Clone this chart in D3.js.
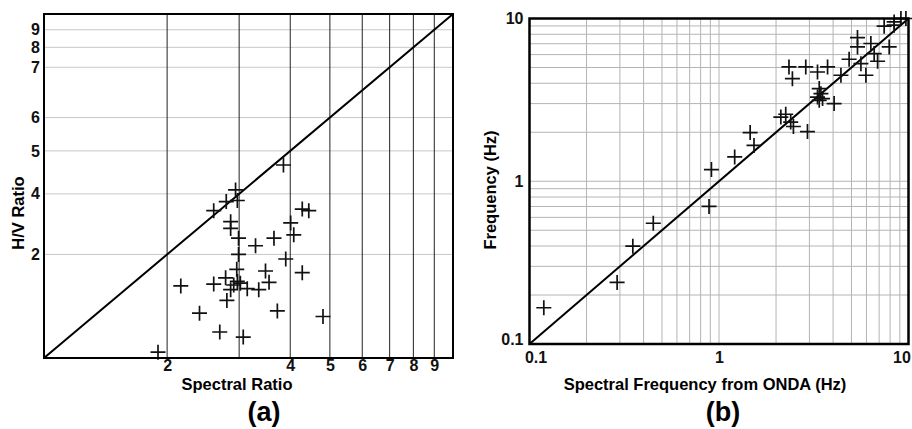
<!DOCTYPE html>
<html>
<head>
<meta charset="utf-8">
<script src="https://cdn.jsdelivr.net/npm/d3@7"></script>
<style>
  body { margin: 0; background: #fff; }
  svg { font-family: 'Liberation Sans', Arial, sans-serif; font-weight: bold; }
</style>
</head>
<body>
<svg id="chart" width="912" height="429"></svg>
<script>
// panel (a): H/V ratio against spectral ratio
const spectralRatio = [3.85, 2.94, 2.79, 2.97, 2.60, 4.28, 4.44, 2.86, 2.86, 4.01, 4.08, 2.99,
  3.65, 3.29, 2.99, 3.90, 2.96, 3.48, 4.28, 2.16, 2.60, 2.78, 2.97, 3.02, 2.91, 2.86, 3.14,
  3.35, 3.55, 2.80, 2.40, 3.72, 4.81, 2.69, 3.07, 1.90]
const hvRatio = [3.64, 3.08, 2.85, 2.87, 2.68, 2.71, 2.68, 2.49, 2.38, 2.47, 2.28, 2.23,
  2.23, 2.12, 2.00, 1.94, 1.81, 1.79, 1.77, 1.62, 1.64, 1.71, 1.67, 1.65, 1.63, 1.58, 1.59,
  1.58, 1.66, 1.47, 1.35, 1.37, 1.32, 1.19, 1.15, 1.04]
const aXTicks = [2, 3, 4, 5, 6, 7, 8, 9]
const aXTickLabels = ['2', '', '4', '5', '6', '7', '8', '9']
const aYTicks = [2, 3, 4, 5, 7, 8, 9]
const aYTickLabels = ['2', '4', '5', '6', '7', '8', '9']

// panel (b): frequency against spectral frequency from ONDA
const ondaFreq = [0.119, 0.290, 0.351, 0.450, 0.886, 0.912, 1.21, 1.46, 1.53, 2.12, 2.25, 2.39,
  2.47, 2.93, 2.34, 2.44, 2.87, 3.31, 3.74, 4.40, 4.86, 3.38, 3.45, 3.31, 3.38, 3.52, 4.05,
  5.38, 5.38, 5.61, 5.96, 6.33, 6.59, 6.87, 7.91, 7.44, 8.40, 9.12, 9.69, 8.40]
const hvFreq = [0.167, 0.239, 0.399, 0.552, 0.700, 1.18, 1.41, 1.99, 1.66, 2.48, 2.58, 2.31,
  2.17, 2.02, 5.04, 4.27, 5.04, 4.69, 5.04, 4.48, 5.62, 3.71, 3.45, 3.29, 3.14, 3.22, 3.00,
  7.64, 6.69, 5.28, 4.48, 7.02, 6.09, 5.46, 6.69, 8.97, 9.53, 10.0, 10.0, 9.10]
const bTicks = [0.1, 1, 10]
const bTickLabels = ['0.1', '1', '10']

const svg = d3.select('#chart')

function cross (g, xs, ys, x, y, half) {
  g.append('g')
    .selectAll('path')
    .data(xs)
    .enter()
    .append('path')
    .attr('d', (d, i) => `M${x(d) - half},${y(ys[i])}h${half * 2}M${x(d)},${y(ys[i]) - half}v${half * 2}`)
    .attr('stroke', '#111')
    .attr('stroke-width', 1.7)
    .attr('fill', 'none')
}

// ---------- (a) ----------
const a = {left: 44, right: 453, top: 14, bottom: 358}
const ax = d3.scaleLog().domain([1, 10]).range([a.left, a.right])
const ay = d3.scaleLog().domain([1, 10]).range([a.bottom, a.top])
const ga = svg.append('g')

ga.selectAll('line.hgrid')
  .data(aYTicks)
  .enter()
  .append('line')
  .attr('x1', a.left).attr('x2', a.right)
  .attr('y1', d => ay(d)).attr('y2', d => ay(d))
  .attr('stroke', '#c8c8c8')
  .attr('stroke-width', 1)

ga.selectAll('line.vgrid')
  .data(aXTicks)
  .enter()
  .append('line')
  .attr('y1', a.top).attr('y2', a.bottom)
  .attr('x1', d => ax(d)).attr('x2', d => ax(d))
  .attr('stroke', '#222')
  .attr('stroke-width', 1)

ga.append('line')
  .attr('x1', ax(1)).attr('y1', ay(1))
  .attr('x2', ax(10)).attr('y2', ay(10))
  .attr('stroke', '#000')
  .attr('stroke-width', 2)

cross(ga, spectralRatio, hvRatio, ax, ay, 7.5)

ga.append('rect')
  .attr('x', a.left).attr('y', a.top)
  .attr('width', a.right - a.left).attr('height', a.bottom - a.top)
  .attr('fill', 'none').attr('stroke', '#000').attr('stroke-width', 2)

ga.append('g')
  .attr('transform', `translate(0,${a.bottom})`)
  .call(d3.axisBottom(ax).tickValues(aXTicks).tickFormat((d, i) => aXTickLabels[i]).tickSize(0).tickPadding(2))
ga.append('g')
  .attr('transform', `translate(${a.left},0)`)
  .call(d3.axisLeft(ay).tickValues(aYTicks).tickFormat((d, i) => aYTickLabels[i]).tickSize(0).tickPadding(4))

ga.append('text')
  .attr('x', 237).attr('y', 390)
  .attr('text-anchor', 'middle')
  .style('font-size', '16.5px')
  .text('Spectral Ratio')
ga.append('text')
  .attr('transform', 'translate(23.5,213) rotate(-90)')
  .attr('text-anchor', 'middle')
  .style('font-size', '16.5px')
  .text('H/V Ratio')
ga.append('text')
  .attr('x', 264).attr('y', 421)
  .attr('text-anchor', 'middle')
  .style('font-size', '27px')
  .text('(a)')

// ---------- (b) ----------
const b = {left: 529.5, right: 908.5, top: 18.5, bottom: 344}
const bx = d3.scaleLog().domain([0.1, 10]).range([b.left, b.right])
const by = d3.scaleLog().domain([0.1, 10]).range([b.bottom, b.top])
const gb = svg.append('g')

gb.selectAll('line.vgrid')
  .data(bx.ticks())
  .enter()
  .append('line')
  .attr('y1', b.top).attr('y2', b.bottom)
  .attr('x1', d => bx(d)).attr('x2', d => bx(d))
  .attr('stroke', '#b4b4b4')
  .attr('stroke-width', 1)

gb.selectAll('line.hgrid')
  .data(by.ticks())
  .enter()
  .append('line')
  .attr('x1', b.left).attr('x2', b.right)
  .attr('y1', d => by(d)).attr('y2', d => by(d))
  .attr('stroke', '#b4b4b4')
  .attr('stroke-width', 1)

gb.append('line')
  .attr('x1', bx(0.1)).attr('y1', by(0.1))
  .attr('x2', bx(10)).attr('y2', by(10))
  .attr('stroke', '#000')
  .attr('stroke-width', 2)

cross(gb, ondaFreq, hvFreq, bx, by, 7.5)

gb.append('rect')
  .attr('x', b.left).attr('y', b.top)
  .attr('width', b.right - b.left).attr('height', b.bottom - b.top)
  .attr('fill', 'none').attr('stroke', '#000').attr('stroke-width', 2.5)

const bxA = gb.append('g')
  .attr('transform', `translate(0,${b.bottom})`)
  .call(d3.axisBottom(bx).tickValues(bTicks).tickFormat((d, i) => bTickLabels[i]).tickSize(0).tickPadding(8))
bxA.selectAll('.tick text').attr('dx', (d, i) => [6, 0, -7][i])
const byA = gb.append('g')
  .attr('transform', `translate(${b.left},0)`)
  .call(d3.axisLeft(by).tickValues(bTicks).tickFormat((d, i) => bTickLabels[i]).tickSize(0).tickPadding(6))
byA.selectAll('.tick text').attr('dy', (d, i) => ['0.0em', '0.32em', '0.32em'][i])

gb.append('text')
  .attr('x', 705).attr('y', 390)
  .attr('text-anchor', 'middle')
  .style('font-size', '16.5px')
  .text('Spectral Frequency from ONDA (Hz)')
gb.append('text')
  .attr('transform', 'translate(495.5,190) rotate(-90)')
  .attr('text-anchor', 'middle')
  .style('font-size', '16.5px')
  .text('Frequency (Hz)')
gb.append('text')
  .attr('x', 723).attr('y', 421)
  .attr('text-anchor', 'middle')
  .style('font-size', '27px')
  .text('(b)')

svg.selectAll('.domain').remove()
svg.selectAll('.tick text')
  .attr('fill', '#111')
  .style('font-size', '16px')
  .style('font-family', "'Liberation Sans', Arial, sans-serif")
  .style('font-weight', 'bold')
</script>
</body>
</html>
